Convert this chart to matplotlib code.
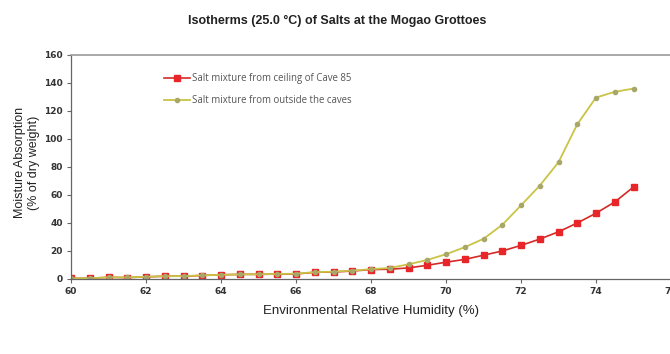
import numpy as np
import matplotlib
matplotlib.use("Agg")
import matplotlib.pyplot as plt

# Relative humidity steps (%)
rh = [60.0, 60.5, 61.0, 61.5, 62.0, 62.5, 63.0, 63.5, 64.0, 64.5,
      65.0, 65.5, 66.0, 66.5, 67.0, 67.5, 68.0, 68.5, 69.0, 69.5,
      70.0, 70.5, 71.0, 71.5, 72.0, 72.5, 73.0, 73.5, 74.0, 74.5, 75.0]

# Moisture absorption (% of dry weight)
cave85 = [0.5, 0.5, 1.2, 1.0, 1.5, 2.0, 2.0, 2.5, 3.0, 3.3,
          3.3, 3.5, 3.6, 4.8, 5.0, 5.7, 6.7, 7.0, 7.9, 9.8,
          12.0, 14.0, 17.0, 20.0, 24.0, 28.5, 33.7, 40.0, 47.0, 55.0, 65.7]
outside = [0.5, 0.6, 1.2, 1.1, 1.6, 2.0, 2.1, 2.6, 3.0, 3.3,
           3.4, 3.6, 3.8, 4.9, 5.2, 6.0, 7.0, 7.9, 10.5, 13.6,
           17.7, 22.7, 28.7, 38.7, 52.6, 66.7, 83.4, 110.5, 129.6, 133.7, 136.0]

label_cave = "Salt mixture from ceiling of Cave 85"
label_out = "Salt mixture from outside the caves"
title = "Isotherms (25.0 °C) of Salts at the Mogao Grottoes"

fig = plt.figure(figsize=(6.7, 3.54), dpi=100)
ax = fig.add_axes([71 / 670, 75 / 354, 600 / 670, 224 / 354])

ax.plot(rh, cave85, color="#d42a26", lw=1.2, marker="s", ms=4.2,
        mfc="#e8262a", mec="#e8262a", label=label_cave)
ax.plot(rh, outside, color="#c9c445", lw=1.3, marker="o", ms=3.0,
        mfc="#a9a66a", mec="#a9a66a", label=label_out)

ax.set_xlim(60, 76)
ax.set_ylim(0, 160)
ax.set_xticks(np.arange(60, 77, 2))
ax.set_yticks(np.arange(0, 161, 20))

tick_font = dict(family=["Liberation Sans Narrow", "DejaVu Sans"],
                 weight="bold", size=6.5)
ax.set_xticklabels([str(v) for v in range(60, 77, 2)], **tick_font, color="#333333")
ax.set_yticklabels([str(v) for v in range(0, 161, 20)], **tick_font, color="#333333")
ax.tick_params(axis="both", length=3, width=0.8, color="#666666", pad=3)

for side in ["top", "right"]:
    ax.spines[side].set_color("#999999")
    ax.spines[side].set_linewidth(1.2)
for side in ["left", "bottom"]:
    ax.spines[side].set_color("#666666")
    ax.spines[side].set_linewidth(0.9)

ax.set_xlabel("Environmental Relative Humidity (%)",
              family="Liberation Sans", size=9.5, color="#222222")
ax.xaxis.set_label_coords(0.5, -0.115)
ax.set_ylabel("Moisture Absorption\n(% of dry weight)",
              family="Liberation Sans", size=9, color="#222222")
ax.yaxis.set_label_coords(-0.052, 0.52)

leg = ax.legend(loc="upper left", bbox_to_anchor=(0.155, 0.92), frameon=False,
                prop=dict(family="Open Sans", size=6.9), handlelength=2.7,
                handletextpad=0.2, labelspacing=1.15, borderpad=0, borderaxespad=0)
for t in leg.get_texts():
    t.set_color("#555555")

fig.text(0.503, 0.94, title, ha="center", va="center",
         family="Liberation Sans", weight="bold", size=9, color="#222222")

fig.savefig("out.png", dpi=100)
